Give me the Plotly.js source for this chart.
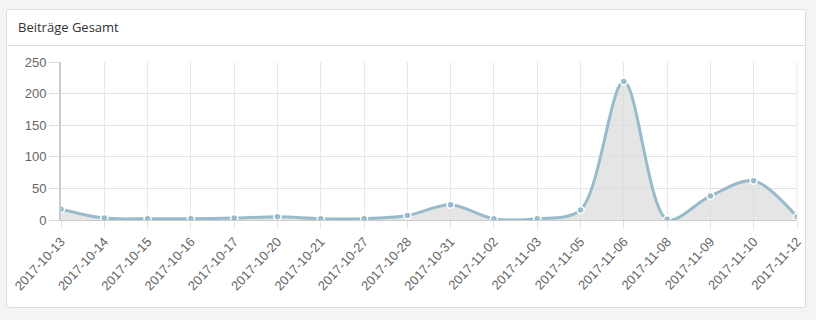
<!DOCTYPE html>
<html><head><meta charset="utf-8">
<script src="https://cdn.plot.ly/plotly-3.0.1.min.js"></script>
<style>
html,body{margin:0;padding:0;background:#f4f4f4;width:816px;height:320px;overflow:hidden;}
#panel{position:absolute;left:6px;top:9px;width:798px;height:297px;background:#fff;border:1px solid #ddd;border-radius:3px;}
#head{position:absolute;left:0;top:0;width:798px;height:36px;border-bottom:1px solid #ddd;font-family:"Open Sans",sans-serif;font-size:13px;color:#333;line-height:34px;padding-left:11px;box-sizing:border-box;}
#chart{position:absolute;left:0;top:0;width:816px;height:320px;}
</style></head>
<body>
<div id="panel"><div id="head">Beiträge Gesamt</div></div>
<div id="chart"></div>
<script>
const categories = ["2017-10-13","2017-10-14","2017-10-15","2017-10-16","2017-10-17","2017-10-20","2017-10-21","2017-10-27","2017-10-28","2017-10-31","2017-11-02","2017-11-03","2017-11-05","2017-11-06","2017-11-08","2017-11-09","2017-11-10","2017-11-12"];
const values = [17, 3, 2, 2, 3, 5, 2, 2, 7, 24, 2, 2, 16, 219, 1, 38, 62, 5];
const yTicks = [0, 50, 100, 150, 200, 250];

const trace = {
  x: categories, y: values, type: 'scatter', mode: 'lines+markers',
  line: {shape: 'spline', smoothing: 0.9, color: 'rgb(151,187,205)', width: 3},
  marker: {size: 7, color: 'rgb(151,187,205)', line: {color: '#fff', width: 1.5}},
  fill: 'tozeroy', fillcolor: 'rgba(220,220,220,0.75)',
  hoverinfo: 'x+y', cliponaxis: true
};
const layout = {
  width: 816, height: 320,
  margin: {l: 61, r: 19, t: 62, b: 100},
  paper_bgcolor: 'rgba(0,0,0,0)', plot_bgcolor: 'rgba(0,0,0,0)',
  showlegend: false,
  font: {family: 'Liberation Sans, Arial, sans-serif', size: 13, color: '#666'},
  xaxis: {
    type: 'category', range: [0, categories.length - 1],
    tickangle: -47, ticks: 'outside', ticklen: 8, tickcolor: '#e3e3e3',
    showgrid: true, gridcolor: '#e8e8e8', gridwidth: 1,
    showline: true, linecolor: '#ccc', mirror: false,
    tickfont: {size: 13, color: '#666'}, automargin: false, fixedrange: true
  },
  yaxis: {
    range: [0, 250], tickvals: yTicks, ticktext: yTicks.map(String),
    ticks: 'outside', ticklen: 10, tickcolor: '#ddd',
    showgrid: true, gridcolor: '#e3e3e3', gridwidth: 1,
    showline: true, linecolor: '#ccc', linewidth: 2,
    zeroline: true, zerolinecolor: '#999', zerolinewidth: 1,
    tickfont: {size: 13, color: '#666'}, automargin: false, fixedrange: true
  },
  shapes: [{type: 'line', xref: 'paper', yref: 'paper', x0: 1, x1: 1, y0: 0, y1: 1, line: {color: '#e8e8e8', width: 1}}]
};
Plotly.newPlot('chart', [trace], layout, {displayModeBar: false, staticPlot: true});
</script>
</body></html>
